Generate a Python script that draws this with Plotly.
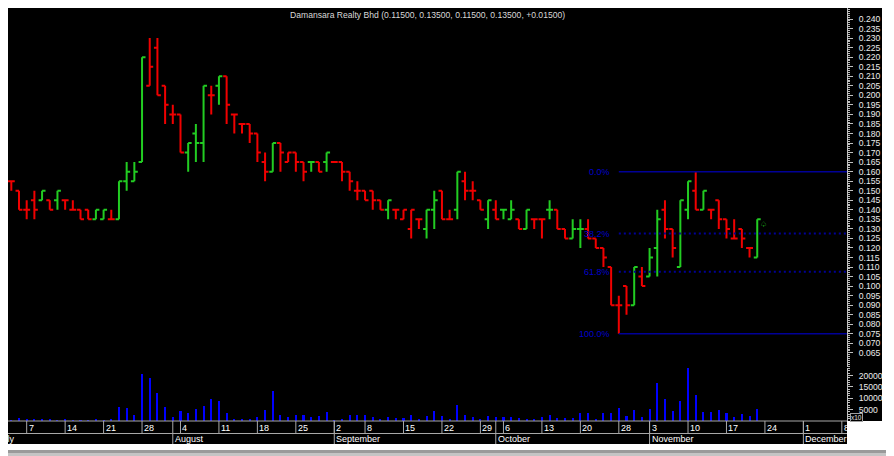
import pandas as pd
import plotly.graph_objects as go

# ---------------- data ----------------
stock_name = "Damansara Realty Bhd"
holidays = ["2008-09-01", "2008-10-01", "2008-10-02", "2008-10-27"]
first_date = "2008-07-03"
last_date = "2008-11-21"

opens = [0.155, 0.150, 0.140, 0.145, 0.145, 0.145, 0.145, 0.145, 0.140, 0.140,
         0.140, 0.135, 0.135, 0.135, 0.135, 0.155, 0.155, 0.165, 0.205, 0.225,
         0.205, 0.190, 0.190, 0.170, 0.180, 0.175, 0.200, 0.205, 0.210, 0.190,
         0.185, 0.185, 0.180, 0.165, 0.160, 0.175, 0.165, 0.170, 0.165, 0.165,
         0.165, 0.165, 0.165, 0.165, 0.160, 0.150, 0.150, 0.150, 0.145, 0.140,
         0.140, 0.135, 0.130, 0.135, 0.130, 0.140, 0.150, 0.135, 0.140, 0.155,
         0.150, 0.145, 0.135, 0.140, 0.140, 0.135, 0.135, 0.130, 0.135, 0.135,
         0.140, 0.140, 0.130, 0.125, 0.130, 0.130, 0.125, 0.120, 0.110, 0.090,
         0.100, 0.090, 0.105, 0.105, 0.120, 0.140, 0.130, 0.110, 0.140, 0.150,
         0.140, 0.140, 0.145, 0.135, 0.125, 0.130, 0.120, 0.115]
highs = [0.155, 0.150, 0.145, 0.150, 0.150, 0.145, 0.150, 0.145, 0.145, 0.140,
         0.140, 0.140, 0.140, 0.140, 0.155, 0.165, 0.165, 0.220, 0.230, 0.230,
         0.205, 0.195, 0.190, 0.175, 0.185, 0.205, 0.205, 0.210, 0.210, 0.190,
         0.185, 0.185, 0.180, 0.170, 0.175, 0.175, 0.170, 0.170, 0.165, 0.165,
         0.165, 0.170, 0.165, 0.165, 0.160, 0.155, 0.150, 0.150, 0.145, 0.145,
         0.140, 0.140, 0.140, 0.135, 0.140, 0.150, 0.150, 0.140, 0.160, 0.160,
         0.155, 0.145, 0.145, 0.145, 0.140, 0.145, 0.135, 0.140, 0.135, 0.135,
         0.145, 0.140, 0.130, 0.135, 0.135, 0.135, 0.125, 0.120, 0.110, 0.095,
         0.100, 0.110, 0.110, 0.120, 0.140, 0.145, 0.130, 0.145, 0.155, 0.160,
         0.150, 0.140, 0.145, 0.135, 0.135, 0.130, 0.120, 0.135]
lows = [0.150, 0.140, 0.135, 0.135, 0.145, 0.140, 0.140, 0.140, 0.140, 0.135,
        0.135, 0.135, 0.135, 0.135, 0.135, 0.150, 0.155, 0.165, 0.205, 0.200,
        0.185, 0.185, 0.170, 0.160, 0.165, 0.165, 0.190, 0.195, 0.185, 0.180,
        0.180, 0.175, 0.165, 0.155, 0.160, 0.160, 0.165, 0.160, 0.155, 0.160,
        0.160, 0.160, 0.165, 0.155, 0.150, 0.145, 0.145, 0.140, 0.140, 0.135,
        0.135, 0.135, 0.125, 0.130, 0.125, 0.130, 0.135, 0.135, 0.135, 0.145,
        0.145, 0.140, 0.130, 0.135, 0.135, 0.135, 0.130, 0.130, 0.130, 0.125,
        0.135, 0.130, 0.125, 0.125, 0.120, 0.125, 0.120, 0.110, 0.090, 0.075,
        0.085, 0.090, 0.100, 0.105, 0.105, 0.125, 0.115, 0.110, 0.135, 0.140,
        0.140, 0.135, 0.130, 0.125, 0.125, 0.120, 0.115, 0.115]
closes = [0.155, 0.140, 0.140, 0.140, 0.150, 0.140, 0.150, 0.145, 0.140, 0.135,
          0.135, 0.140, 0.140, 0.135, 0.155, 0.160, 0.160, 0.220, 0.215, 0.200,
          0.195, 0.190, 0.170, 0.175, 0.175, 0.205, 0.200, 0.210, 0.195, 0.190,
          0.185, 0.180, 0.170, 0.160, 0.175, 0.170, 0.170, 0.165, 0.160, 0.165,
          0.160, 0.170, 0.165, 0.160, 0.155, 0.150, 0.145, 0.145, 0.140, 0.145,
          0.140, 0.140, 0.140, 0.135, 0.140, 0.145, 0.135, 0.135, 0.160, 0.150,
          0.150, 0.140, 0.145, 0.135, 0.140, 0.140, 0.130, 0.140, 0.135, 0.135,
          0.140, 0.130, 0.125, 0.130, 0.130, 0.125, 0.120, 0.115, 0.090, 0.090,
          0.090, 0.110, 0.100, 0.115, 0.135, 0.130, 0.120, 0.145, 0.155, 0.140,
          0.150, 0.140, 0.135, 0.130, 0.125, 0.125, 0.120, 0.135]
# volume in units of x10 shares
volumes = [200, 1500, 500, 500, 500, 500, 400, 500, 200, 200,
           400, 500, 200, 500, 6300, 5500, 2500, 20700, 19100, 12200,
           6000, 1700, 4200, 3300, 5400, 6800, 9600, 9000, 3500, 900,
           900, 900, 1900, 4900, 13000, 2500, 1700, 2800, 2800, 1600,
           2000, 3900, 400, 900, 2500, 2800, 2500, 1600, 900, 1900,
           1500, 1200, 2500, 600, 2200, 4500, 2200, 700, 7000, 2800,
           1600, 700, 2200, 1600, 1600, 1900, 1200, 1000, 1000, 1600,
           2800, 1500, 1200, 1200, 3300, 3600, 900, 3500, 3600, 5500,
           2000, 4800, 1600, 5200, 16600, 9500, 4500, 9000, 23300, 11400,
           4100, 3900, 4900, 3300, 1900, 2900, 2200, 5100]

price_ticks = [0.065, 0.070, 0.075, 0.080, 0.085, 0.090, 0.095, 0.100, 0.105,
               0.110, 0.115, 0.120, 0.125, 0.130, 0.135, 0.140, 0.145, 0.150,
               0.155, 0.160, 0.165, 0.170, 0.175, 0.180, 0.185, 0.190, 0.195,
               0.200, 0.205, 0.210, 0.215, 0.220, 0.225, 0.230, 0.235, 0.240]
volume_ticks = [5000, 10000, 15000, 20000]
volume_tick_labels = ["5000", "10000", "15000", "20000"]
fib_levels = [0.0, 38.2, 61.8, 100.0]
month_names = ["June", "July", "August", "September", "October", "November", "December"]

# ---------------- calendar / positions ----------------
calendar = [d for d in pd.bdate_range("2008-06-30", "2008-12-12")
            if d.strftime("%Y-%m-%d") not in holidays]
cal_str = [d.strftime("%Y-%m-%d") for d in calendar]
i0 = cal_str.index(first_date)
i1 = cal_str.index(last_date)
dates = cal_str[i0:i1 + 1]
x = list(range(i0, i1 + 1))

# ---------------- geometry ----------------
# the page body adds an 8px white margin at left and top
PAGE_OFF = 8
W, H = 894 - PAGE_OFF, 456 - PAGE_OFF
PL, PR, PT, PB = 8, 847, 8, 421          # plot area in page px
PX_PER_DAY = 7.69
xr0 = x[0] - 0.43
xr1 = xr0 + (PR - PL) / PX_PER_DAY

def fx(Xpx):
    return (Xpx - PL) / (PR - PL)

def fy(Ypx):
    return (PB - Ypx) / (PB - PT)

def pos_frac(p):
    return (p - xr0) / (xr1 - xr0)

GREEN = "#22cc22"
RED = "#f00000"
AXC = "#c0c0c0"
TXT = "#ececec"
FONT = "Liberation Sans, Arial, sans-serif"

# bar colour by close versus previous close (unchanged keeps previous colour)
up_flags = []
up = False
for i, c in enumerate(closes):
    if i > 0:
        if c > closes[i - 1]:
            up = True
        elif c < closes[i - 1]:
            up = False
    up_flags.append(up)

fig = go.Figure()
for flag, col in [(True, GREEN), (False, RED)]:
    idx = [i for i in range(len(x)) if up_flags[i] == flag]
    fig.add_trace(go.Ohlc(
        x=[x[i] for i in idx], open=[opens[i] for i in idx],
        high=[highs[i] for i in idx], low=[lows[i] for i in idx],
        close=[closes[i] for i in idx],
        increasing=dict(line=dict(color=col, width=2)),
        decreasing=dict(line=dict(color=col, width=2)),
        tickwidth=0.45, hoverinfo="skip", showlegend=False,
        xaxis="x", yaxis="y"))

fig.add_trace(go.Bar(x=x, y=volumes, width=0.27,
                     marker=dict(color="#0000ff", line=dict(width=0)),
                     hoverinfo="skip", showlegend=False, xaxis="x", yaxis="y2"))

# ---------------- fibonacci retracement ----------------
low_i = min(range(len(lows)), key=lambda i: lows[i])
swing_low = lows[low_i]
swing_high = max(highs[low_i:])
shapes = []
annotations = []
for lv in fib_levels:
    price = swing_high - lv / 100.0 * (swing_high - swing_low)
    solid = lv in (0.0, 100.0)
    shapes.append(dict(type="line", xref="x", yref="y", x0=x[low_i], x1=xr1,
                       y0=price, y1=price,
                       line=dict(color="#000098", width=1.5 if solid else 2,
                                 dash="solid" if solid else "2px,3px")))
    annotations.append(dict(xref="x", yref="y", x=x[low_i], y=price, xshift=-7,
                            xanchor="right", yanchor="middle", showarrow=False,
                            text="%.1f%%" % lv,
                            font=dict(color="#0000cc", size=9, family=FONT)))

# ---------------- frame (white border + shadow) ----------------
def rect(x0, y0, x1, y1, color):
    shapes.append(dict(type="rect", xref="paper", yref="paper",
                       x0=fx(x0), x1=fx(x1), y0=fy(y1), y1=fy(y0),
                       fillcolor=color, line=dict(width=0), layer="above"))

rect(882, 0, 900, 460, "white")
rect(0, 444, 900, 460, "white")
rect(847, 421, 882, 444, "white")
rect(888, 6, 900, 452, "#9a9a9a")
rect(891, 6, 900, 452, "#c4c4c4")
rect(4, 450, 891, 460, "#9a9a9a")
rect(4, 453, 891, 460, "#c4c4c4")

# ---------------- date axis ----------------
LINEC = "#a8a8a8"
shapes.append(dict(type="line", xref="paper", yref="paper", x0=0, x1=1,
                   y0=fy(421), y1=fy(421), line=dict(color=LINEC, width=1), layer="above"))
shapes.append(dict(type="line", xref="paper", yref="paper", x0=0, x1=1,
                   y0=fy(433.5), y1=fy(433.5), line=dict(color=LINEC, width=1), layer="above"))

week_ticks = []
prev_week = None
for p, d in enumerate(calendar):
    wk = d.isocalendar()[1]
    if wk != prev_week:
        week_ticks.append((p, str(d.day)))
    prev_week = wk
month_ticks = []
prev_m = None
for p, d in enumerate(calendar):
    if d.month != prev_m:
        month_ticks.append((p, month_names[d.month - 6]))
    prev_m = d.month

for p, lab in week_ticks:
    if xr0 <= p <= xr1:
        shapes.append(dict(type="line", xref="paper", yref="paper",
                           x0=pos_frac(p), x1=pos_frac(p), y0=fy(421), y1=fy(433.5),
                           line=dict(color=LINEC, width=1), layer="above"))
        annotations.append(dict(xref="paper", yref="paper", x=pos_frac(p), y=fy(427.5),
                                xanchor="left", yanchor="middle", showarrow=False,
                                text=lab, font=dict(color="white", size=9, family=FONT)))
for p, lab in month_ticks:
    if xr0 <= p <= xr1:
        shapes.append(dict(type="line", xref="paper", yref="paper",
                           x0=pos_frac(p), x1=pos_frac(p), y0=fy(421), y1=fy(444),
                           line=dict(color=LINEC, width=1), layer="above"))
    if p <= xr1 and lab != "June":
        annotations.append(dict(xref="paper", yref="paper", x=pos_frac(p), y=fy(439.3),
                                xanchor="left", yanchor="middle", showarrow=False,
                                text=lab, font=dict(color="white", size=9, family=FONT)))

# ---------------- title and markers ----------------
chg = closes[-1] - closes[-2]
title = "%s (%.5f, %.5f, %.5f, %.5f, %+.5f)" % (stock_name, opens[-1], highs[-1],
                                                lows[-1], closes[-1], chg)
annotations.append(dict(xref="paper", yref="paper", x=0.5, y=fy(15.5), xanchor="center",
                        yanchor="middle", showarrow=False, text=title,
                        font=dict(color="#d8d8d8", size=8.6, family=FONT)))
annotations.append(dict(xref="x", yref="y", x=x[-1] + 0.75, y=closes[-1] - 0.0025,
                        xanchor="center", yanchor="middle", showarrow=False, text="♤",
                        font=dict(color=GREEN, size=8, family="DejaVu Sans")))
annotations.append(dict(xref="paper", yref="paper", x=fx(849.5), y=fy(417.8),
                        xanchor="left", yanchor="middle", showarrow=False, text="x10",
                        bordercolor="#a0a0a0", borderwidth=1, borderpad=0, bgcolor="black",
                        font=dict(color="#e0e0e0", size=6.5, family=FONT)))

axis_common = dict(side="right", showgrid=False, zeroline=False, showline=True,
                   linecolor=AXC, linewidth=1, ticks="outside", ticklen=5, tickcolor=AXC,
                   tickwidth=1, ticklabelstandoff=4, anchor="x", fixedrange=True,
                   tickfont=dict(color=TXT, size=8.6, family=FONT))

fig.update_layout(
    width=W, height=H, autosize=False,
    margin=dict(l=PL - PAGE_OFF, r=894 - PR, t=PT - PAGE_OFF, b=456 - PB, pad=0),
    paper_bgcolor="black", plot_bgcolor="black",
    showlegend=False, bargap=0, dragmode=False,
    xaxis=dict(range=[xr0, xr1], showticklabels=False, showgrid=False, zeroline=False,
               showline=False, ticks="", anchor="y2", rangeslider=dict(visible=False),
               fixedrange=True),
    yaxis=dict(domain=[fy(367), 1], range=[0.05761, 0.24577],
               tickmode="array", tickvals=price_ticks,
               ticktext=["%.3f" % v for v in price_ticks],
               minor=dict(tickmode="linear", tick0=0, dtick=0.001, ticks="outside",
                          ticklen=2, tickcolor=AXC, showgrid=False),
               **axis_common),
    yaxis2=dict(domain=[0, fy(368)], range=[0, 23300],
                tickmode="array", tickvals=volume_ticks, ticktext=volume_tick_labels,
                minor=dict(tickmode="linear", tick0=0, dtick=1000, ticks="outside",
                           ticklen=2, tickcolor=AXC, showgrid=False),
                **axis_common),
    shapes=shapes,
    annotations=annotations,
)

fig.write_html("out.html", config={"displayModeBar": False})
